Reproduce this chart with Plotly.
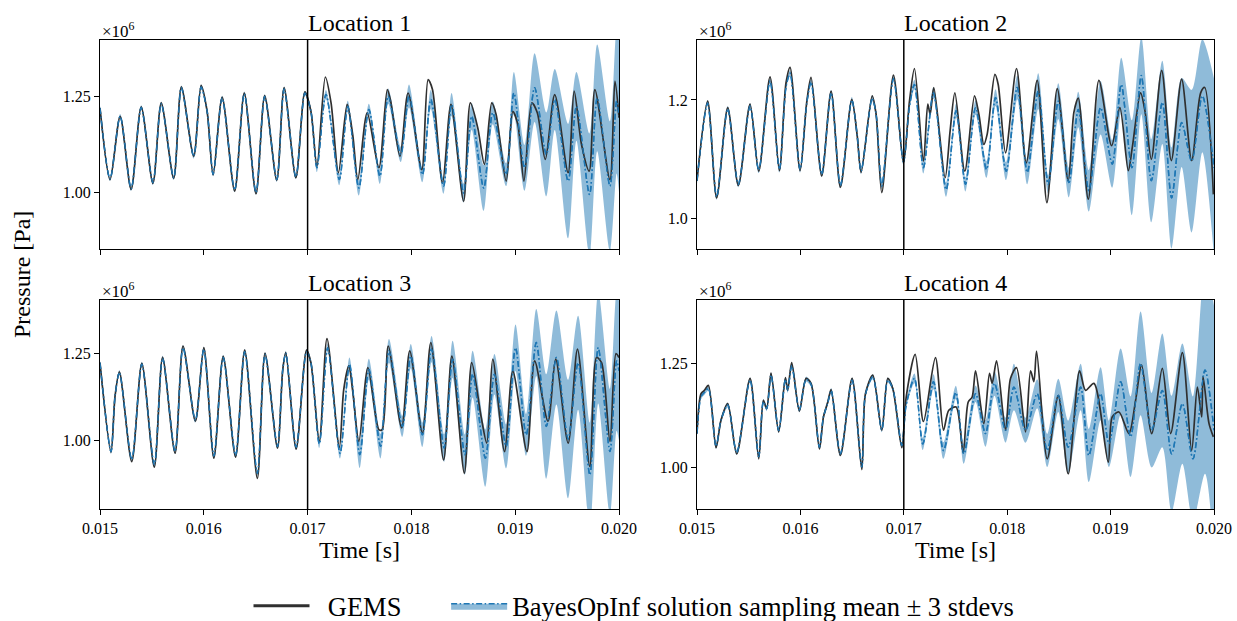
import plotly.graph_objects as go

# ---------------- data (time in ms, pressure in units of 1e6 Pa) ----------------
t_split_ms = 17.0

x_tick_vals_ms = [15.0, 16.0, 17.0, 18.0, 19.0, 20.0]
x_tick_text = ["0.015", "0.016", "0.017", "0.018", "0.019", "0.020"]

titles = ["Location 1", "Location 2", "Location 3", "Location 4"]

y_ticks_1 = [1.00, 1.25]
y_ticktext_1 = ["1.00", "1.25"]
y_ticks_2 = [1.0, 1.2]
y_ticktext_2 = ["1.0", "1.2"]
y_ticks_3 = [1.00, 1.25]
y_ticktext_3 = ["1.00", "1.25"]
y_ticks_4 = [1.00, 1.25]
y_ticktext_4 = ["1.00", "1.25"]

# ---- Location 1 ----
t_gems_1 = [15.000, 15.097, 15.194, 15.300, 15.397, 15.510, 15.590, 15.710, 15.784, 15.903, 15.974, 16.032, 16.090,
            16.177, 16.297, 16.390, 16.503, 16.587, 16.703, 16.774, 16.887, 16.974, 17.032, 17.090, 17.171, 17.226,
            17.297, 17.381, 17.435, 17.484, 17.574, 17.687, 17.768, 17.800, 17.890, 17.968, 18.100, 18.161, 18.203,
            18.300, 18.381, 18.503, 18.568, 18.639, 18.703, 18.774, 18.816, 18.913, 18.977, 19.026, 19.084, 19.161,
            19.213, 19.290, 19.381, 19.510, 19.568, 19.639, 19.713, 19.768, 19.913, 19.961, 20.000]
p_gems_1 = [1.221, 1.033, 1.199, 1.007, 1.224, 1.023, 1.234, 1.036, 1.276, 1.094, 1.280, 1.212, 1.045, 1.249, 1.003,
            1.260, 0.996, 1.253, 1.031, 1.274, 1.038, 1.263, 1.212, 1.068, 1.302, 1.234, 1.051, 1.230, 1.150, 1.033,
            1.208, 1.064, 1.269, 1.239, 1.094, 1.260, 1.059, 1.295, 1.269, 1.024, 1.230, 0.976, 1.234, 1.169, 1.073,
            1.234, 1.204, 1.029, 1.212, 1.177, 1.029, 1.234, 1.208, 1.086, 1.256, 1.051, 1.265, 1.125, 1.055, 1.269,
            1.033, 1.291, 1.195]
t_mean_1 = [15.000, 15.097, 15.194, 15.300, 15.397, 15.510, 15.590, 15.710, 15.784, 15.903, 15.974, 16.032, 16.090,
            16.177, 16.297, 16.390, 16.503, 16.587, 16.703, 16.774, 16.887, 16.974, 17.032, 17.090, 17.177, 17.306,
            17.387, 17.494, 17.590, 17.697, 17.777, 17.897, 17.977, 18.106, 18.187, 18.310, 18.387, 18.503, 18.581,
            18.697, 18.784, 18.913, 18.987, 19.090, 19.187, 19.300, 19.381, 19.510, 19.590, 19.716, 19.790, 19.913,
            19.977, 20.000]
p_mean_1 = [1.221, 1.035, 1.199, 1.009, 1.222, 1.025, 1.232, 1.038, 1.274, 1.094, 1.276, 1.212, 1.047, 1.247, 1.006,
            1.258, 0.999, 1.251, 1.033, 1.271, 1.040, 1.260, 1.212, 1.064, 1.256, 1.033, 1.225, 1.011, 1.217, 1.042,
            1.252, 1.099, 1.252, 1.046, 1.243, 1.016, 1.230, 0.998, 1.199, 1.011, 1.208, 1.046, 1.260, 1.064, 1.274,
            1.099, 1.243, 1.029, 1.225, 0.994, 1.247, 1.016, 1.239, 1.200]
sd3_1 = [0.006, 0.006, 0.006, 0.006, 0.006, 0.006, 0.006, 0.006, 0.006, 0.006, 0.006, 0.006, 0.006, 0.006, 0.006,
         0.006, 0.006, 0.006, 0.006, 0.006, 0.006, 0.006, 0.008, 0.012, 0.012, 0.015, 0.015, 0.020, 0.015, 0.020,
         0.020, 0.020, 0.030, 0.020, 0.025, 0.020, 0.030, 0.025, 0.035, 0.060, 0.030, 0.030, 0.055, 0.060, 0.090,
         0.110, 0.080, 0.150, 0.090, 0.160, 0.140, 0.170, 0.190, 0.200]

# ---- Location 2 ----
t_gems_2 = [15.000, 15.103, 15.190, 15.297, 15.400, 15.513, 15.597, 15.706, 15.797, 15.861, 15.900, 15.997, 16.061,
            16.103, 16.206, 16.297, 16.387, 16.497, 16.548, 16.587, 16.694, 16.732, 16.787, 16.900, 16.997, 17.055,
            17.103, 17.190, 17.232, 17.255, 17.290, 17.400, 17.448, 17.494, 17.590, 17.684, 17.726, 17.774, 17.806,
            17.881, 17.913, 17.984, 18.090, 18.184, 18.290, 18.384, 18.484, 18.590, 18.645, 18.687, 18.784, 18.887,
            19.010, 19.090, 19.171, 19.210, 19.290, 19.332, 19.394, 19.494, 19.587, 19.687, 19.784, 19.871, 19.910,
            19.994]
p_gems_2 = [1.064, 1.198, 1.035, 1.187, 1.056, 1.193, 1.080, 1.239, 1.081, 1.229, 1.255, 1.081, 1.196, 1.238, 1.072,
            1.215, 1.053, 1.201, 1.142, 1.078, 1.207, 1.176, 1.044, 1.242, 1.094, 1.198, 1.253, 1.097, 1.193, 1.176,
            1.221, 1.069, 1.148, 1.212, 1.080, 1.207, 1.176, 1.125, 1.142, 1.243, 1.226, 1.111, 1.253, 1.094, 1.233,
            1.027, 1.219, 1.064, 1.179, 1.203, 1.033, 1.233, 1.123, 1.187, 1.081, 1.120, 1.212, 1.182, 1.100, 1.250,
            1.098, 1.235, 1.098, 1.212, 1.221, 1.041]
t_mean_2 = [15.000, 15.103, 15.190, 15.297, 15.400, 15.513, 15.597, 15.706, 15.797, 15.861, 15.900, 15.997, 16.061,
            16.103, 16.206, 16.297, 16.387, 16.497, 16.548, 16.587, 16.694, 16.732, 16.787, 16.900, 16.997, 17.055,
            17.103, 17.190, 17.287, 17.410, 17.506, 17.597, 17.694, 17.800, 17.887, 17.990, 18.097, 18.194, 18.300,
            18.397, 18.494, 18.597, 18.687, 18.790, 18.903, 19.016, 19.103, 19.206, 19.297, 19.394, 19.500, 19.590,
            19.687, 19.784, 19.887, 20.000]
p_mean_2 = [1.064, 1.195, 1.037, 1.185, 1.058, 1.190, 1.082, 1.232, 1.083, 1.222, 1.245, 1.083, 1.194, 1.230, 1.075,
            1.212, 1.056, 1.200, 1.142, 1.080, 1.203, 1.176, 1.055, 1.236, 1.096, 1.190, 1.226, 1.086, 1.212, 1.049,
            1.182, 1.058, 1.187, 1.083, 1.204, 1.080, 1.221, 1.078, 1.215, 1.058, 1.198, 1.061, 1.184, 1.047, 1.187,
            1.092, 1.226, 1.086, 1.241, 1.064, 1.196, 1.035, 1.162, 1.097, 1.207, 1.086]
sd3_2 = [0.005, 0.005, 0.005, 0.005, 0.005, 0.005, 0.005, 0.005, 0.005, 0.005, 0.005, 0.005, 0.005, 0.005, 0.005,
         0.005, 0.005, 0.005, 0.005, 0.005, 0.005, 0.005, 0.005, 0.005, 0.005, 0.008, 0.008, 0.010, 0.010, 0.012,
         0.012, 0.012, 0.012, 0.014, 0.014, 0.015, 0.020, 0.020, 0.030, 0.015, 0.030, 0.025, 0.030, 0.035, 0.045,
         0.040, 0.045, 0.080, 0.065, 0.070, 0.070, 0.085, 0.075, 0.120, 0.095, 0.150]

# ---- Location 3 ----
t_gems_3 = [15.000, 15.106, 15.145, 15.187, 15.306, 15.403, 15.523, 15.603, 15.723, 15.800, 15.919, 16.000, 16.097,
            16.187, 16.306, 16.394, 16.516, 16.590, 16.710, 16.761, 16.790, 16.890, 16.990, 17.032, 17.113, 17.187,
            17.306, 17.348, 17.397, 17.435, 17.494, 17.581, 17.687, 17.719, 17.777, 17.906, 17.984, 18.106, 18.187,
            18.310, 18.390, 18.510, 18.581, 18.671, 18.726, 18.784, 18.897, 18.977, 19.113, 19.187, 19.316, 19.390,
            19.510, 19.600, 19.719, 19.784, 19.832, 19.913, 19.971, 20.000]
p_gems_3 = [1.223, 0.966, 1.127, 1.197, 0.939, 1.221, 0.923, 1.238, 0.963, 1.271, 1.055, 1.266, 0.949, 1.241, 0.952,
            1.259, 0.891, 1.250, 0.978, 1.204, 1.252, 0.975, 1.259, 1.223, 0.997, 1.292, 0.980, 1.146, 1.214, 1.141,
            0.997, 1.209, 1.031, 1.031, 1.271, 1.036, 1.257, 1.021, 1.281, 0.944, 1.242, 0.906, 1.223, 1.069, 0.992,
            1.233, 0.968, 1.199, 0.968, 1.228, 1.055, 1.233, 0.992, 1.262, 0.925, 1.238, 1.223, 0.997, 1.249, 1.238]
t_mean_3 = [15.000, 15.106, 15.145, 15.187, 15.306, 15.403, 15.523, 15.603, 15.723, 15.800, 15.919, 16.000, 16.097,
            16.187, 16.306, 16.394, 16.516, 16.590, 16.710, 16.761, 16.790, 16.890, 16.990, 17.032, 17.113, 17.194,
            17.313, 17.403, 17.503, 17.590, 17.703, 17.784, 17.913, 17.994, 18.106, 18.194, 18.316, 18.397, 18.516,
            18.590, 18.713, 18.800, 18.913, 19.003, 19.106, 19.203, 19.300, 19.397, 19.510, 19.606, 19.719, 19.800,
            19.913, 19.977, 20.000]
p_mean_3 = [1.223, 0.968, 1.127, 1.195, 0.945, 1.219, 0.930, 1.236, 0.968, 1.266, 1.058, 1.262, 0.955, 1.238, 0.957,
            1.255, 0.905, 1.247, 0.982, 1.204, 1.250, 0.980, 1.255, 1.223, 0.990, 1.266, 0.963, 1.218, 0.959, 1.204,
            0.983, 1.257, 1.040, 1.242, 1.016, 1.262, 0.978, 1.233, 0.959, 1.190, 0.949, 1.190, 0.983, 1.266, 1.016,
            1.281, 1.040, 1.238, 1.004, 1.223, 0.901, 1.266, 0.968, 1.228, 1.200]
sd3_3 = [0.007, 0.007, 0.007, 0.007, 0.007, 0.007, 0.007, 0.007, 0.007, 0.007, 0.007, 0.007, 0.007, 0.007, 0.007,
         0.007, 0.007, 0.007, 0.007, 0.007, 0.007, 0.007, 0.007, 0.008, 0.012, 0.012, 0.015, 0.020, 0.038, 0.030,
         0.035, 0.034, 0.030, 0.035, 0.035, 0.038, 0.040, 0.053, 0.058, 0.067, 0.082, 0.058, 0.063, 0.067, 0.060,
         0.096, 0.150, 0.135, 0.170, 0.135, 0.150, 0.160, 0.180, 0.200, 0.200]

# ---- Location 4 ----
t_gems_4 = [15.000, 15.039, 15.071, 15.110, 15.184, 15.232, 15.297, 15.384, 15.513, 15.597, 15.642, 15.674, 15.716,
            15.790, 15.855, 15.877, 15.916, 15.990, 16.055, 16.103, 16.184, 16.223, 16.265, 16.297, 16.387, 16.500,
            16.594, 16.629, 16.700, 16.787, 16.845, 16.894, 16.981, 17.023, 17.110, 17.190, 17.306, 17.384, 17.435,
            17.506, 17.574, 17.623, 17.661, 17.694, 17.774, 17.829, 17.855, 17.897, 17.984, 18.032, 18.090, 18.177,
            18.226, 18.258, 18.284, 18.387, 18.494, 18.590, 18.700, 18.758, 18.839, 18.977, 19.016, 19.081, 19.177,
            19.242, 19.300, 19.397, 19.500, 19.581, 19.694, 19.784, 19.839, 19.881, 19.894, 19.952, 19.994]
p_gems_4 = [1.081, 1.177, 1.185, 1.197, 1.047, 1.113, 1.153, 1.032, 1.214, 1.020, 1.161, 1.141, 1.227, 1.085, 1.216,
            1.185, 1.252, 1.135, 1.214, 1.202, 1.044, 1.121, 1.157, 1.187, 1.028, 1.214, 0.994, 1.177, 1.222, 1.089,
            1.214, 1.189, 1.047, 1.169, 1.272, 1.110, 1.264, 1.089, 1.137, 1.145, 1.036, 1.157, 1.169, 1.232, 1.105,
            1.226, 1.202, 1.256, 1.089, 1.214, 1.240, 1.085, 1.232, 1.206, 1.280, 1.020, 1.173, 0.984, 1.232, 1.185,
            1.202, 1.012, 1.121, 1.133, 1.081, 1.161, 1.246, 1.081, 1.238, 1.081, 1.276, 1.040, 1.193, 1.121, 1.218,
            1.105, 1.073]
t_mean_4 = [15.000, 15.039, 15.071, 15.110, 15.184, 15.232, 15.297, 15.384, 15.513, 15.597, 15.642, 15.674, 15.716,
            15.790, 15.855, 15.877, 15.916, 15.990, 16.055, 16.103, 16.184, 16.223, 16.265, 16.297, 16.387, 16.500,
            16.594, 16.629, 16.700, 16.787, 16.845, 16.894, 16.981, 17.023, 17.103, 17.184, 17.287, 17.384, 17.503,
            17.581, 17.694, 17.790, 17.877, 17.984, 18.065, 18.177, 18.290, 18.387, 18.494, 18.590, 18.710, 18.790,
            18.903, 18.984, 19.097, 19.194, 19.290, 19.397, 19.500, 19.590, 19.694, 19.797, 19.913, 20.000]
p_mean_4 = [1.081, 1.170, 1.180, 1.190, 1.050, 1.113, 1.150, 1.035, 1.210, 1.025, 1.158, 1.141, 1.222, 1.088, 1.212,
            1.185, 1.245, 1.138, 1.212, 1.200, 1.048, 1.121, 1.155, 1.185, 1.032, 1.210, 1.000, 1.175, 1.218, 1.090,
            1.210, 1.189, 1.052, 1.150, 1.214, 1.056, 1.206, 1.040, 1.180, 1.032, 1.177, 1.081, 1.202, 1.089, 1.193,
            1.089, 1.177, 1.040, 1.173, 1.048, 1.193, 1.028, 1.177, 1.056, 1.206, 1.073, 1.250, 1.089, 1.185, 1.032,
            1.153, 1.020, 1.234, 1.089]
sd3_4 = [0.006, 0.006, 0.006, 0.006, 0.006, 0.006, 0.006, 0.006, 0.006, 0.006, 0.006, 0.006, 0.006, 0.006, 0.006,
         0.006, 0.006, 0.006, 0.006, 0.006, 0.006, 0.006, 0.006, 0.006, 0.006, 0.006, 0.006, 0.006, 0.006, 0.006,
         0.006, 0.006, 0.006, 0.008, 0.012, 0.015, 0.018, 0.020, 0.016, 0.024, 0.020, 0.032, 0.030, 0.030, 0.056,
         0.030, 0.035, 0.040, 0.040, 0.064, 0.056, 0.064, 0.064, 0.056, 0.080, 0.097, 0.125, 0.090, 0.137, 0.140,
         0.145, 0.150, 0.250, 0.300]

# ---------------- styling ----------------
W, H = 1237, 621
FONT = "Liberation Serif, Times New Roman, serif"
GEMS_COLOR = "#303030"
MEAN_COLOR = "#1f77b4"
BAND_COLOR = "rgba(31,119,180,0.5)"
MEAN_DASH = "6px,2.5px,1.5px,2.5px"

# plot areas in pixels (left, right, top, bottom)
boxes = [(100, 619, 40, 249), (697, 1214, 40, 249), (100, 619, 300, 509), (697, 1214, 300, 509)]
y_ranges = [(0.851, 1.399), (0.949, 1.301), (0.803, 1.403), (0.899, 1.403)]

panels = [
    (t_gems_1, p_gems_1, t_mean_1, p_mean_1, sd3_1, y_ticks_1, y_ticktext_1),
    (t_gems_2, p_gems_2, t_mean_2, p_mean_2, sd3_2, y_ticks_2, y_ticktext_2),
    (t_gems_3, p_gems_3, t_mean_3, p_mean_3, sd3_3, y_ticks_3, y_ticktext_3),
    (t_gems_4, p_gems_4, t_mean_4, p_mean_4, sd3_4, y_ticks_4, y_ticktext_4),
]


def ms_to_s(vals):
    return [v / 1000.0 for v in vals]


fig = go.Figure()
layout = {}
annotations = []
shapes = []

for i, (tg, pg, tm, pm, sd, yt, ytt) in enumerate(panels):
    n = i + 1
    xa = "x" if n == 1 else f"x{n}"
    ya = "y" if n == 1 else f"y{n}"
    lower = [m - s for m, s in zip(pm, sd)]
    upper = [m + s for m, s in zip(pm, sd)]
    ts = ms_to_s(tm)
    spline = dict(shape="spline", smoothing=0.8)

    fig.add_trace(go.Scatter(x=ts, y=lower, xaxis=xa, yaxis=ya, mode="lines",
                             line=dict(width=0, color=BAND_COLOR, **spline),
                             showlegend=False, hoverinfo="skip"))
    fig.add_trace(go.Scatter(x=ts, y=pm, xaxis=xa, yaxis=ya, mode="lines",
                             fill="tonexty", fillcolor=BAND_COLOR,
                             line=dict(width=1.5, color=MEAN_COLOR, dash=MEAN_DASH, **spline),
                             name="BayesOpInf solution sampling mean \u00b1 3 stdevs",
                             legendgroup="bayes", legendrank=2, showlegend=(n == 1)))
    fig.add_trace(go.Scatter(x=ts, y=upper, xaxis=xa, yaxis=ya, mode="lines",
                             fill="tonexty", fillcolor=BAND_COLOR,
                             line=dict(width=0, color=BAND_COLOR, **spline),
                             showlegend=False, hoverinfo="skip", legendgroup="bayes"))
    fig.add_trace(go.Scatter(x=ms_to_s(tg), y=pg, xaxis=xa, yaxis=ya, mode="lines",
                             line=dict(width=1.7, color=GEMS_COLOR, **spline),
                             name="GEMS", legendgroup="gems", showlegend=False))
    # mean line drawn again on top of the GEMS curve
    fig.add_trace(go.Scatter(x=ts, y=pm, xaxis=xa, yaxis=ya, mode="lines",
                             line=dict(width=1.3, color=MEAN_COLOR, dash=MEAN_DASH, **spline),
                             showlegend=False, hoverinfo="skip", legendgroup="bayes"))

    l, r, t, b = boxes[i]
    xdom = [l / W, r / W]
    ydom = [1 - b / H, 1 - t / H]
    bottom_row = n >= 3
    common = dict(showline=True, mirror=True, linecolor="black", linewidth=1, showgrid=False,
                  zeroline=False, ticks="outside", ticklen=5, tickwidth=1, tickcolor="black",
                  automargin=False,
                  tickfont=dict(family=FONT, size=16, color="black"))
    layout["xaxis" if n == 1 else f"xaxis{n}"] = dict(
        domain=xdom, anchor=ya, range=[0.015, 0.020],
        tickvals=ms_to_s(x_tick_vals_ms), ticktext=x_tick_text, showticklabels=bottom_row,
        title=dict(text="Time [s]" if bottom_row else "", font=dict(family=FONT, size=24, color="black"),
                   standoff=4),
        **common)
    layout["yaxis" if n == 1 else f"yaxis{n}"] = dict(
        domain=ydom, anchor=xa, range=list(y_ranges[i]), tickvals=yt, ticktext=ytt, **common)

    shapes.append(dict(type="line", xref=xa, yref=f"{ya} domain", x0=t_split_ms / 1000, x1=t_split_ms / 1000,
                       y0=0, y1=1, line=dict(color="black", width=1.5), layer="above"))
    annotations.append(dict(text=titles[i], xref="paper", yref="paper", x=(l + r) / 2 / W, y=1 - (t - 17) / H,
                            xanchor="center", yanchor="middle", showarrow=False,
                            font=dict(family=FONT, size=24, color="black")))
    annotations.append(dict(text="\u00d710<sup>6</sup>", xref="paper", yref="paper", x=l / W, y=1 - (t - 10) / H,
                            xanchor="left", yanchor="middle", showarrow=False,
                            font=dict(family=FONT, size=17, color="black")))

# legend entry for the GEMS curve (thicker line sample, as in the reference legend)
fig.add_trace(go.Scatter(x=[None], y=[None], mode="lines", line=dict(width=3, color=GEMS_COLOR),
                         name="\u2002GEMS\u00a0\u00a0\u00a0\u00a0\u00a0\u00a0", legendgroup="gems",
                         legendrank=1, showlegend=True, hoverinfo="skip"))

annotations.append(dict(text="Pressure [Pa]", xref="paper", yref="paper", x=22 / W, y=1 - 275 / H,
                        xanchor="center", yanchor="middle", textangle=-90, showarrow=False,
                        font=dict(family=FONT, size=24, color="black")))

fig.update_layout(
    width=W, height=H, margin=dict(l=0, r=0, t=0, b=0, autoexpand=False),
    paper_bgcolor="white", plot_bgcolor="white",
    font=dict(family=FONT, color="black"),
    showlegend=True,
    legend=dict(orientation="h", x=634 / W, xanchor="center", y=1 - 606 / H, yanchor="middle",
                font=dict(family=FONT, size=26.5, color="black"), bgcolor="rgba(0,0,0,0)",
                traceorder="normal", itemwidth=56),
    annotations=annotations, shapes=shapes,
    **layout,
)

fig.write_html("out.html", config={"displayModeBar": False},
               post_script="document.body.style.margin='0';document.body.style.padding='0';")
